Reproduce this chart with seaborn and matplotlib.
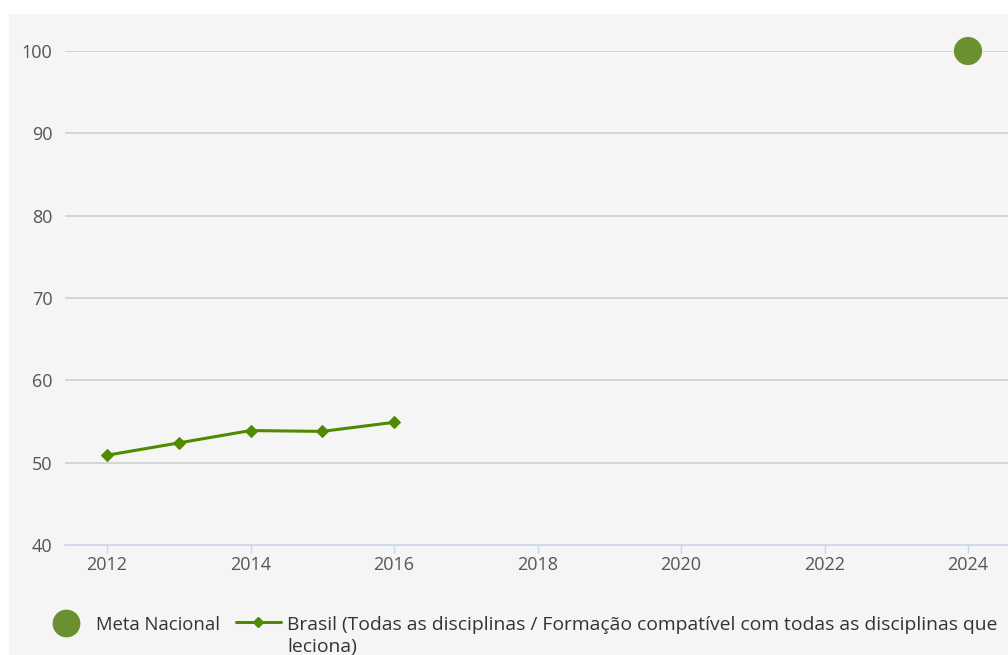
import matplotlib
matplotlib.use("Agg")
import matplotlib.pyplot as plt
import seaborn as sns
import pandas as pd
from matplotlib.patches import Rectangle
from matplotlib.lines import Line2D

years = [2012, 2013, 2014, 2015, 2016]
brasil = [50.9, 52.4, 53.9, 53.8, 54.9]
meta_year = [2024]
meta_value = [100]
x_ticks = [2012, 2014, 2016, 2018, 2020, 2022, 2024]
y_ticks = [40, 50, 60, 70, 80, 90, 100]
label_meta = "Meta Nacional"
label_brasil = ("Brasil (Todas as disciplinas / Formação compatível com todas as disciplinas que\n"
                "leciona)")

sns.set_theme(style="white")
plt.rcParams['font.family'] = ['Open Sans', 'DejaVu Sans']

W, H = 1008, 655
fig = plt.figure(figsize=(W / 100, H / 100), dpi=100)
fig.patch.set_facecolor("white")
fig.add_artist(Rectangle((9 / W, 0), 1 - 9 / W, 1 - 14 / H, transform=fig.transFigure,
                         facecolor="#f5f5f5", edgecolor="none", zorder=0))


def fx(px):
    return px / W


def fy(py):
    return 1 - py / H


left, right = 65 / W, 1.0
bottom, top = 1 - 545 / H, 1 - 51 / H
ax = fig.add_axes([left, bottom, right - left, top - bottom])
ax.set_facecolor("#f5f5f5")

df_b = pd.DataFrame({"ano": years, "valor": brasil})
df_m = pd.DataFrame({"ano": meta_year, "valor": meta_value})

line_color = "#4f8a00"
meta_color = "#6a902f"
text_color = "#333333"
tick_color = "#555555"

sns.lineplot(data=df_b, x="ano", y="valor", ax=ax, color=line_color, linewidth=2.2,
             marker="D", markersize=6.5, markeredgecolor=line_color, zorder=4, legend=False)
sns.scatterplot(data=df_m, x="ano", y="valor", ax=ax, color=meta_color, s=410,
                edgecolor="none", zorder=5, clip_on=False, legend=False)

x0 = 2012 - (107 - 65) / 71.75
x1 = 2012 + (1008 - 107) / 71.75
ax.set_xlim(x0, x1)
ax.set_ylim(40, 100)
ax.set_xticks(x_ticks)
ax.set_yticks(y_ticks)
ax.set_xticklabels([str(t) for t in x_ticks])
ax.set_yticklabels([str(t) for t in y_ticks])

for yv in y_ticks[1:]:
    ax.axhline(yv, color="#cccccc", linewidth=1.1, zorder=1)

for s in ["top", "right", "left"]:
    ax.spines[s].set_visible(False)
ax.spines["bottom"].set_color("#ccd6eb")
ax.spines["bottom"].set_linewidth(1.2)

ax.tick_params(axis="x", which="both", length=6, width=1, color="#ccd6eb",
               labelsize=13, labelcolor=tick_color, pad=2, direction="out", bottom=True)
ax.tick_params(axis="y", length=0, labelsize=13, labelcolor=tick_color, pad=9)
ax.set_xlabel("")
ax.set_ylabel("")

# legend (bottom)
fig.add_artist(Line2D([fx(66)], [fy(623)], marker="o", linestyle="none", markersize=20,
                      color=meta_color, markeredgecolor="none", transform=fig.transFigure))
fig.text(fx(96), fy(625), label_meta, fontsize=13.3, color=text_color,
         ha="left", va="center")
fig.add_artist(Line2D([fx(236), fx(281)], [fy(622), fy(622)], color=line_color,
                      linewidth=2.2, transform=fig.transFigure))
fig.add_artist(Line2D([fx(258)], [fy(622)], marker="D", markersize=5, color=line_color,
                      linestyle="none", transform=fig.transFigure))
fig.text(fx(287), fy(636), label_brasil, fontsize=13.9, color=text_color,
         ha="left", va="center", linespacing=1.25)

fig.savefig("out.png", dpi=100, facecolor=fig.get_facecolor())
